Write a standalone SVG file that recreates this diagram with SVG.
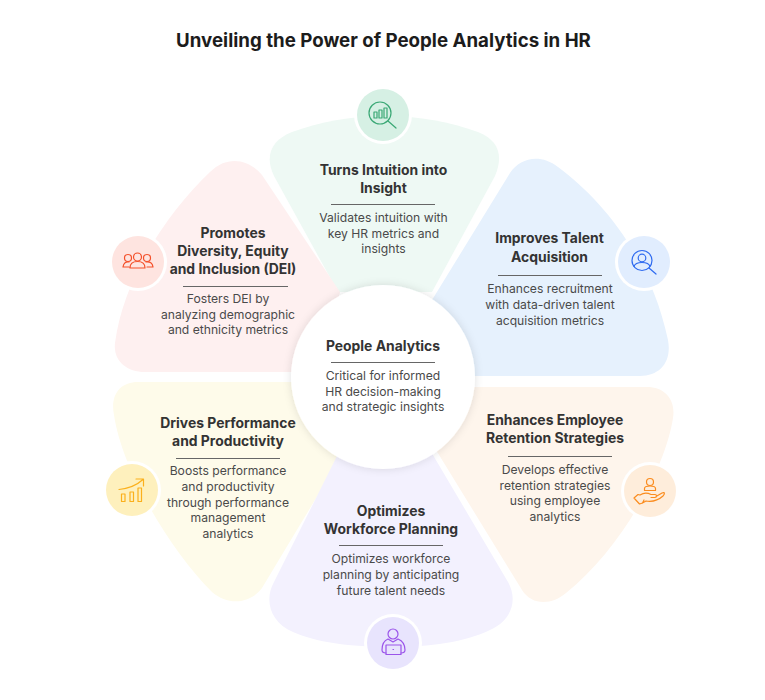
<svg xmlns="http://www.w3.org/2000/svg" width="765" height="700" viewBox="0 0 765 700">
<style>
text{font-family:"Inter","Liberation Sans",sans-serif;text-anchor:middle}
.t{font-size:18.700px;font-weight:700;fill:#1c1c1c}
.h{font-size:13.900px;font-weight:700;fill:#333}
.b{font-size:12.150px;fill:#4a4a4a}
.r{stroke:#666;stroke-width:1;fill:none}
.ring{fill:#fff}
.i{fill:none;stroke-width:1.200;stroke-linejoin:round;stroke-linecap:round}
</style>
<defs><filter id="sh" x="-20%" y="-20%" width="140%" height="140%"><feDropShadow dx="0" dy="0" stdDeviation="4" flood-color="#000" flood-opacity=".12"/></filter></defs>
<rect width="765" height="700" fill="#fff"/>
<text class="t" x="383.500" y="47">Unveiling the Power of People Analytics in HR</text>

<g id="node-insight">
<path fill="#eef9f4" d="M338 292L274 176C264 155 272 140 292 132C320 122 350 116 384 116C420 116 450 122 478 132C498 140 504 155 495 176L432 292Z"/>
<circle class="ring" cx="383" cy="115" r="29"/><circle cx="383" cy="115" r="26" fill="#d6f0e4"/>
<g class="i" stroke="#3aa875"><circle cx="380" cy="113" r="11"/><rect x="374" y="112" width="3" height="6"/><rect x="379" y="110" width="3" height="8"/><rect x="384" y="108" width="3" height="10"/><path d="M388 121L396 128"/></g>
<text class="h" x="383.500" y="175">Turns Intuition into</text><text class="h" x="383.500" y="193">Insight</text>
<path class="r" d="M331 204.500H435"/>
<text class="b" x="383.500" y="222">Validates intuition with</text><text class="b" x="383.500" y="238">key HR metrics and</text><text class="b" x="383.500" y="253">insights</text>
</g>

<g id="node-dei">
<path fill="#fef0f0" d="M340 292L262 175C250 160 228 154 210 172C170 210 124 275 115 343C113 360 126 372 145 372H320Z"/>
<circle class="ring" cx="138" cy="262" r="29"/><circle cx="138" cy="262" r="26" fill="#fee4e0"/>
<g class="i" stroke="#f4502a"><circle cx="128" cy="258" r="3.500"/><circle cx="137.500" cy="257" r="4"/><circle cx="147" cy="258" r="3.500"/><path d="M123 267C123.500 263 126 261.500 129 262M153 267C152.500 263 150 261.500 146 262M123 267H129M147 267H153M130 268C130 263 134 261.500 137.500 261.500C141 261.500 145 263 145 268Z"/></g>
<text class="h" x="233" y="238">Promotes</text><text class="h" x="233" y="256">Diversity, Equity</text><text class="h" x="233" y="274">and Inclusion (DEI)</text>
<path class="r" d="M183 286.500H288"/>
<text class="b" x="228" y="303">Fosters DEI by</text><text class="b" x="228" y="319">analyzing demographic</text><text class="b" x="228" y="334">and ethnicity metrics</text>
</g>

<g id="node-talent">
<path fill="#e6f1fd" d="M432 300L510 173C520 158 540 153 558 167C600 198 650 255 668 340C672 362 660 376 640 376H450Z"/>
<circle class="ring" cx="644" cy="262" r="29"/><circle cx="644" cy="262" r="26" fill="#e1edfe"/>
<g class="i" stroke="#2f6bf0"><circle cx="642" cy="260.500" r="10"/><circle cx="642" cy="258" r="3.800"/><path d="M634 266.500C635 263 638 262.500 642 262.500C646 262.500 649 263 650 266.500"/><path d="M649 268L656 274"/></g>
<text class="h" x="549.500" y="243">Improves Talent</text><text class="h" x="549.500" y="262">Acquisition</text>
<path class="r" d="M498 275.500H602"/>
<text class="b" x="550" y="293">Enhances recruitment</text><text class="b" x="550" y="309">with data-driven talent</text><text class="b" x="550" y="325">acquisition metrics</text>
</g>

<g id="node-retention">
<path fill="#fef5ec" d="M440 387H647C665 387 676 400 673 418C665 470 620 550 566 593C552 605 532 606 522 590L436 450Z"/>
<circle class="ring" cx="650" cy="491" r="29"/><circle cx="650" cy="491" r="26" fill="#feeddb"/>
<g class="i" stroke="#fb8c1e"><circle cx="650" cy="482" r="3.500"/><path d="M644.500 490.500V488.500C644.500 486.500 647 486 650 486C653 486 655.500 486.500 655.500 488.500V490.500Z"/><path d="M640 495C644 492.500 648 493 651 494.500H655C657 494.500 657 497.500 655 497.500H651M656 496.500L662 493C665 491.500 665 494 663 496C658 500.500 652 502 646 501L642.500 503M640 495L638 494.500L634 498L639.500 504L642.500 503L644 500"/></g>
<text class="h" x="555" y="425">Enhances Employee</text><text class="h" x="555" y="443">Retention Strategies</text>
<path class="r" d="M508 456.500H612"/>
<text class="b" x="555" y="474">Develops effective</text><text class="b" x="555" y="490">retention strategies</text><text class="b" x="555" y="505">using employee</text><text class="b" x="555" y="521">analytics</text>
</g>

<g id="node-performance">
<path fill="#fefbea" d="M330 382H138C120 382 110 395 114 415C122 470 170 550 212 592C228 606 250 604 262 588L345 450Z"/>
<circle class="ring" cx="132" cy="490" r="29"/><circle cx="132" cy="490" r="26" fill="#fef0bd"/>
<g class="i" stroke="#fbb01c"><rect x="121.500" y="494" width="3.500" height="7.500"/><rect x="130" y="492" width="3.500" height="9.500"/><rect x="138" y="488" width="3.500" height="13.500"/><path d="M119 489.500C128 488.500 137 485 143 479.500M136 479H143.500V486"/></g>
<text class="h" x="228" y="428">Drives Performance</text><text class="h" x="228" y="446">and Productivity</text>
<path class="r" d="M176 458.500H280"/>
<text class="b" x="228" y="475">Boosts performance</text><text class="b" x="228" y="491">and productivity</text><text class="b" x="228" y="507">through performance</text><text class="b" x="228" y="522">management</text><text class="b" x="228" y="538">analytics</text>
</g>

<g id="node-workforce">
<path fill="#f3f1fe" d="M340 450L274 582C264 600 270 622 293 632C315 642 350 647 392 647C430 647 465 642 490 630C512 620 518 600 508 582L430 450Z"/>
<circle class="ring" cx="393" cy="643" r="29"/><circle cx="393" cy="643" r="26" fill="#e8e4fd"/>
<g class="i" stroke="#9b55ea"><circle cx="393" cy="634" r="5"/><path d="M388 639C383 641 382 645 382 650C382 652 383 653 386 653M398 639C403 641 405 645 405 650C405 652 403 653 401 653M388 639L393 642L398 639"/><rect x="386" y="645" width="15" height="9.500"/><path d="M393 649.500H393.500"/></g>
<text class="h" x="391" y="516">Optimizes</text><text class="h" x="391" y="534">Workforce Planning</text>
<path class="r" d="M339 545.500H443"/>
<text class="b" x="391" y="563">Optimizes workforce</text><text class="b" x="391" y="579">planning by anticipating</text><text class="b" x="391" y="595">future talent needs</text>
</g>

<g id="node-center">
<circle cx="383" cy="377" r="92" fill="#fff" filter="url(#sh)"/>
<text class="h" x="383" y="351">People Analytics</text>
<path class="r" d="M331 362.500H435"/>
<text class="b" x="383" y="380">Critical for informed</text><text class="b" x="383" y="396">HR decision-making</text><text class="b" x="383" y="411">and strategic insights</text>
</g>
<g id="connectors"/>
</svg>
